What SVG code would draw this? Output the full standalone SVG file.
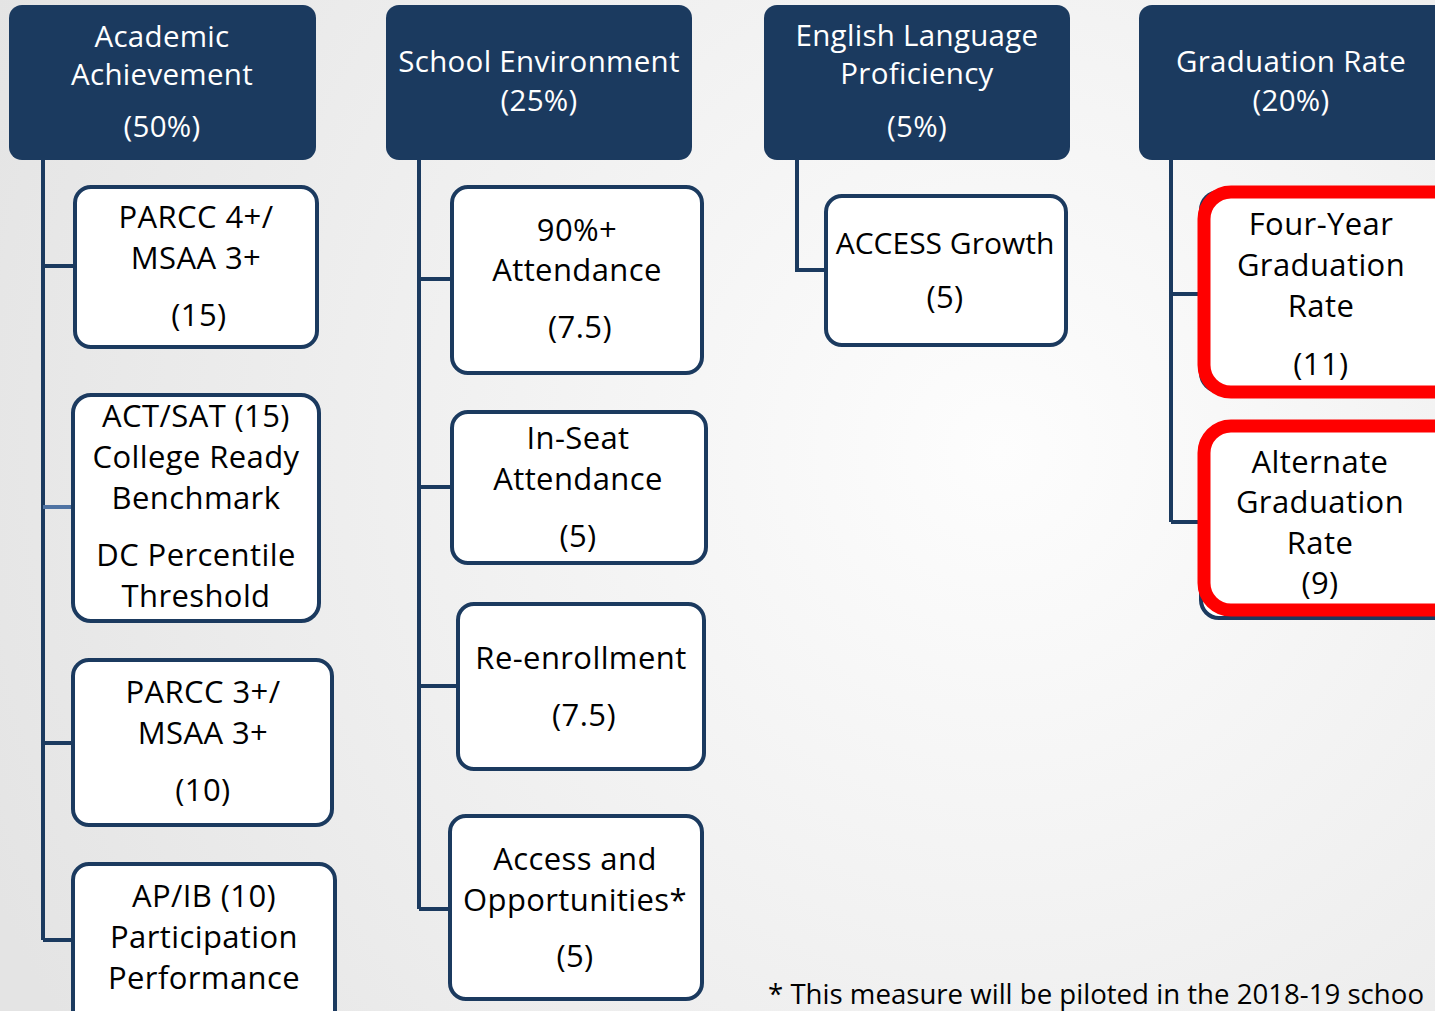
<svg xmlns="http://www.w3.org/2000/svg" width="1435" height="1011" viewBox="0 0 1435 1011">
<defs>
<radialGradient id="bg" cx="1000" cy="450" r="1100" gradientUnits="userSpaceOnUse">
<stop offset="0" stop-color="#fdfdfd"/>
<stop offset="1" stop-color="#e4e4e4"/>
</radialGradient>
</defs>
<style>
.hdr{fill:#1b3a5f;}
.ht{fill:#ffffff;font-family:"Open Sans","Noto Sans",sans-serif;font-size:29.5px;letter-spacing:0.3px;text-anchor:middle;}
.box{fill:#ffffff;stroke:#1b3a5f;stroke-width:4;}
.red{fill:#ffffff;stroke:#ff0000;stroke-width:13;}
.bt{fill:#000000;font-family:"Open Sans","Noto Sans",sans-serif;font-size:31px;letter-spacing:0.4px;text-anchor:middle;}
.ln{fill:none;stroke:#1b3a5f;stroke-width:4;}
.ft{fill:#000000;font-family:"Open Sans","Noto Sans",sans-serif;font-size:27px;}
</style>
<rect x="0" y="0" width="1435" height="1011" fill="url(#bg)"/>

<g id="connectors">
<path class="ln" d="M43 158 V940 M43 266 H75 M43 743 H73 M43 940 H73"/>
<path d="M43 507 H73" fill="none" stroke="#4f73a3" stroke-width="4"/>
<path class="ln" d="M419 158 V909 M419 279 H452 M419 487 H452 M419 686 H458 M419 909 H450"/>
<path class="ln" d="M797 158 V270 H826"/>
<path class="ln" d="M1171 158 V522 M1171 294 H1203 M1171 522 H1203"/>
</g>

<g id="h-academic">
<rect class="hdr" x="9" y="5" width="307" height="155" rx="13"/>
<text class="ht" x="162" y="47">Academic</text>
<text class="ht" x="162" y="85">Achievement</text>
<text class="ht" x="162" y="137">(50%)</text>
</g>
<g id="h-school">
<rect class="hdr" x="386" y="5" width="306" height="155" rx="13"/>
<text class="ht" x="539" y="72">School Environment</text>
<text class="ht" x="539" y="111">(25%)</text>
</g>
<g id="h-english">
<rect class="hdr" x="764" y="5" width="306" height="155" rx="13"/>
<text class="ht" x="917" y="46">English Language</text>
<text class="ht" x="917" y="84">Proficiency</text>
<text class="ht" x="917" y="137">(5%)</text>
</g>
<g id="h-graduation">
<rect class="hdr" x="1139" y="5" width="320" height="155" rx="13"/>
<text class="ht" x="1291" y="72">Graduation Rate</text>
<text class="ht" x="1291" y="111">(20%)</text>
</g>

<g id="a1">
<rect class="box" x="75" y="187" width="242" height="160" rx="16"/>
<text class="bt" x="196" y="228">PARCC 4+/</text>
<text class="bt" x="196" y="269">MSAA 3+</text>
<text class="bt" x="199" y="326">(15)</text>
</g>
<g id="a2">
<rect class="box" x="73" y="395" width="246" height="226" rx="18"/>
<text class="bt" x="196" y="427">ACT/SAT (15)</text>
<text class="bt" x="196" y="468">College Ready</text>
<text class="bt" x="196" y="509">Benchmark</text>
<text class="bt" x="196" y="566">DC Percentile</text>
<text class="bt" x="196" y="607">Threshold</text>
</g>
<g id="a3">
<rect class="box" x="73" y="660" width="259" height="165" rx="16"/>
<text class="bt" x="203" y="703">PARCC 3+/</text>
<text class="bt" x="203" y="744">MSAA 3+</text>
<text class="bt" x="203" y="801">(10)</text>
</g>
<g id="a4">
<rect class="box" x="73" y="864" width="262" height="170" rx="16"/>
<text class="bt" x="204" y="907">AP/IB (10)</text>
<text class="bt" x="204" y="948">Participation</text>
<text class="bt" x="204" y="989">Performance</text>
</g>

<g id="b1">
<rect class="box" x="452" y="187" width="250" height="186" rx="16"/>
<text class="bt" x="577" y="241">90%+</text>
<text class="bt" x="577" y="281">Attendance</text>
<text class="bt" x="580" y="338">(7.5)</text>
</g>
<g id="b2">
<rect class="box" x="452" y="412" width="254" height="151" rx="16"/>
<text class="bt" x="578" y="449">In-Seat</text>
<text class="bt" x="578" y="490">Attendance</text>
<text class="bt" x="578" y="547">(5)</text>
</g>
<g id="b3">
<rect class="box" x="458" y="604" width="246" height="165" rx="16"/>
<text class="bt" x="581" y="669">Re-enrollment</text>
<text class="bt" x="584" y="726">(7.5)</text>
</g>
<g id="b4">
<rect class="box" x="450" y="816" width="252" height="183" rx="16"/>
<text class="bt" x="575" y="870">Access and</text>
<text class="bt" x="575" y="911">Opportunities*</text>
<text class="bt" x="575" y="967">(5)</text>
</g>

<g id="c1">
<rect class="box" x="826" y="196" width="240" height="149" rx="16"/>
<text class="bt" x="945" y="254" style="font-size:30px;letter-spacing:0">ACCESS Growth</text>
<text class="bt" x="945" y="308">(5)</text>
</g>

<g id="d1">
<rect class="box" x="1201" y="192" width="260" height="199" rx="18"/>
<rect class="red" x="1204" y="192" width="256" height="200" rx="27"/>
<text class="bt" x="1321" y="235">Four-Year</text>
<text class="bt" x="1321" y="276">Graduation</text>
<text class="bt" x="1321" y="317">Rate</text>
<text class="bt" x="1321" y="375">(11)</text>
</g>
<g id="d2">
<rect class="box" x="1201" y="430" width="260" height="188" rx="18"/>
<rect class="red" x="1204" y="426" width="256" height="184" rx="27"/>
<text class="bt" x="1320" y="473">Alternate</text>
<text class="bt" x="1320" y="513">Graduation</text>
<text class="bt" x="1320" y="554">Rate</text>
<text class="bt" x="1320" y="594">(9)</text>
</g>

<text class="ft" x="768" y="1004" textLength="656" lengthAdjust="spacingAndGlyphs">* This measure will be piloted in the 2018-19 schoo</text>
</svg>
